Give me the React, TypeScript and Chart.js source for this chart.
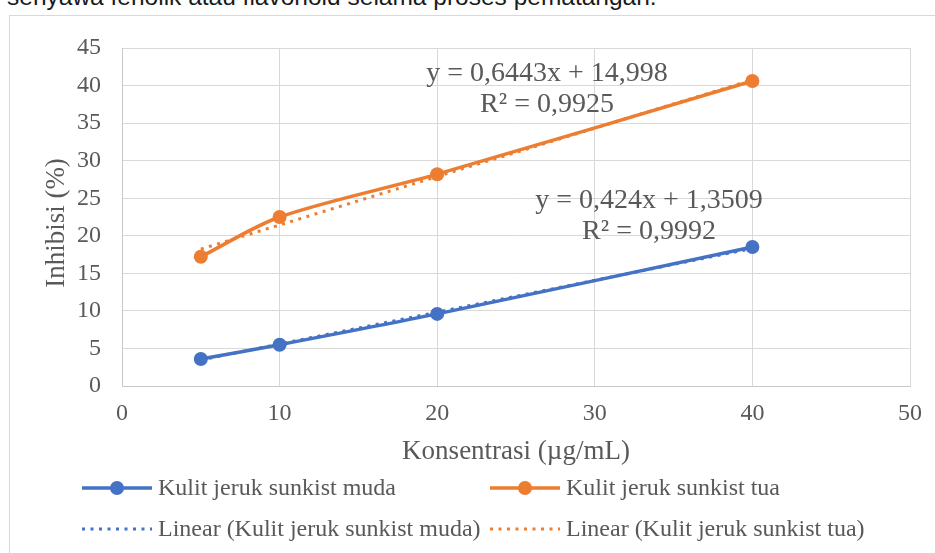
import React, { useEffect, useRef } from 'react';
import { Chart, registerables } from 'chart.js';

Chart.register(...registerables);

// ---- data ----
const concentrations = [5, 10, 20, 40];
const mudaValues = [3.6, 5.5, 9.6, 18.5];
const tuaValues = [17.2, 22.5, 28.2, 40.6];
const trendX = [5, 40];
const mudaTrend = [3.47, 18.31];
const tuaTrend = [18.22, 40.77];
const xTicks = [0, 10, 20, 30, 40, 50];
const yTicks = [0, 5, 10, 15, 20, 25, 30, 35, 40, 45];
const seriesLabels = [
  'Kulit jeruk sunkist muda',
  'Kulit jeruk sunkist tua',
  'Linear (Kulit jeruk sunkist muda)',
  'Linear (Kulit jeruk sunkist tua)',
];
const tuaEquation = ['y = 0,6443x + 14,998', 'R² = 0,9925'];
const mudaEquation = ['y = 0,424x + 1,3509', 'R² = 0,9992'];
const xTitle = 'Konsentrasi (µg/mL)';
const yTitle = 'Inhibisi (%)';
const captionText = 'senyawa fenolik atau flavonoid selama proses pematangan.';

// ---- style ----
const BLUE = '#4472C4';
const ORANGE = '#ED7D31';
const TEXT = '#595959';
const GRID = '#d9d9d9';
const SERIF = '"Liberation Serif", "Times New Roman", serif';

// annotation anchors in data space (centre of the first line)
const equationAnchors = [
  { lines: tuaEquation, x: 26.97, y: 41.6 },
  { lines: mudaEquation, x: 33.44, y: 24.7 },
];

const equationPlugin = {
  id: 'equations',
  afterDatasetsDraw(chart: any) {
    const { ctx, scales } = chart;
    ctx.save();
    ctx.font = `28px ${SERIF}`;
    ctx.fillStyle = TEXT;
    ctx.textAlign = 'center';
    ctx.textBaseline = 'middle';
    equationAnchors.forEach((a) => {
      const px = scales.x.getPixelForValue(a.x);
      const py = scales.y.getPixelForValue(a.y);
      a.lines.forEach((t, i) => ctx.fillText(t, px, py + i * 31));
    });
    ctx.restore();
  },
};

// y-axis title, drawn slightly below the axis centre as in the reference
const yTitlePlugin = {
  id: 'yTitle',
  afterDraw(chart: any) {
    const { ctx, chartArea } = chart;
    ctx.save();
    ctx.translate(57, (chartArea.top + chartArea.bottom) / 2 + 6);
    ctx.rotate(-Math.PI / 2);
    ctx.font = `27px ${SERIF}`;
    ctx.fillStyle = TEXT;
    ctx.textAlign = 'center';
    ctx.textBaseline = 'middle';
    ctx.fillText(yTitle, 0, 0);
    ctx.restore();
  },
};

const legendCols = [82, 490];
const legendRows = [488, 529];
const legendPlugin = {
  id: 'excelLegend',
  afterDraw(chart: any) {
    const { ctx } = chart;
    ctx.save();
    chart.data.datasets.forEach((ds: any, i: number) => {
      const x0 = legendCols[i % 2];
      const y = legendRows[Math.floor(i / 2)];
      const w = 70;
      ctx.strokeStyle = ds.borderColor;
      ctx.lineWidth = ds.borderWidth;
      ctx.setLineDash(ds.borderDash || []);
      ctx.lineCap = 'butt';
      ctx.beginPath();
      ctx.moveTo(x0, y);
      ctx.lineTo(x0 + w, y);
      ctx.stroke();
      ctx.setLineDash([]);
      if (ds.pointRadius > 0) {
        ctx.fillStyle = ds.borderColor;
        ctx.beginPath();
        ctx.arc(x0 + w / 2, y, ds.pointRadius, 0, Math.PI * 2);
        ctx.fill();
      }
      ctx.fillStyle = TEXT;
      ctx.font = `24px ${SERIF}`;
      ctx.textAlign = 'left';
      ctx.textBaseline = 'middle';
      ctx.fillText(ds.label, x0 + w + 6, y + 1);
    });
    ctx.restore();
  },
};

function ChartView() {
  const ref = useRef<HTMLCanvasElement>(null);
  useEffect(() => {
    const canvas = ref.current!;
    const toPts = (xs: number[], ys: number[]) => xs.map((x, i) => ({ x, y: ys[i] }));
    const chart = new Chart(canvas, {
      type: 'line',
      data: {
        datasets: [
          {
            label: seriesLabels[0],
            data: toPts(concentrations, mudaValues),
            borderColor: BLUE,
            backgroundColor: BLUE,
            borderWidth: 3.5,
            pointRadius: 7,
            pointBorderWidth: 0,
            pointBackgroundColor: BLUE,
            tension: 0.3,
            order: 1,
          },
          {
            label: seriesLabels[1],
            data: toPts(concentrations, tuaValues),
            borderColor: ORANGE,
            backgroundColor: ORANGE,
            borderWidth: 3.5,
            pointRadius: 7,
            pointBorderWidth: 0,
            pointBackgroundColor: ORANGE,
            tension: 0.3,
            order: 1,
          },
          {
            label: seriesLabels[2],
            data: toPts(trendX, mudaTrend),
            borderColor: BLUE,
            borderWidth: 3,
            borderDash: [3, 5.5],
            pointRadius: 0,
            tension: 0,
            order: 0,
          },
          {
            label: seriesLabels[3],
            data: toPts(trendX, tuaTrend),
            borderColor: ORANGE,
            borderWidth: 3,
            borderDash: [3, 5.5],
            pointRadius: 0,
            tension: 0,
            order: 0,
          },
        ],
      },
      options: {
        animation: false,
        responsive: false,
        devicePixelRatio: 1,
        layout: { padding: { left: 41, top: 48, right: 25, bottom: 85 } },
        plugins: {
          legend: { display: false },
          tooltip: { enabled: false },
        },
        scales: {
          x: {
            type: 'linear',
            min: 0,
            max: 50,
            afterBuildTicks: (s: any) => {
              s.ticks = xTicks.map((v) => ({ value: v }));
            },
            afterFit: (s: any) => {
              s.height = 82;
            },
            ticks: { color: TEXT, font: { family: SERIF, size: 24 }, padding: 13, maxRotation: 0 },
            grid: { color: GRID, drawTicks: false, lineWidth: 1 },
            border: { color: '#c8c8c8', width: 1 },
            title: { display: true, text: xTitle, color: TEXT, font: { family: SERIF, size: 27 }, padding: 0 },
          },
          y: {
            type: 'linear',
            min: 0,
            max: 45,
            afterBuildTicks: (s: any) => {
              s.ticks = yTicks.map((v) => ({ value: v }));
            },
            afterFit: (s: any) => {
              s.width = 81;
            },
            ticks: { color: TEXT, font: { family: SERIF, size: 24 }, padding: 21 },
            grid: { color: GRID, drawTicks: false, lineWidth: 1 },
            border: { color: '#c8c8c8', width: 1 },
            title: { display: false },
          },
        },
      },
      plugins: [equationPlugin, yTitlePlugin, legendPlugin],
    } as any);
    return () => chart.destroy();
  }, []);
  return (
    <canvas
      ref={ref}
      width={935}
      height={553}
      style={{ position: 'absolute', left: 0, top: 0, width: 935, height: 553 }}
    />
  );
}

export default function App() {
  return (
    <div
      style={{
        position: 'fixed',
        left: 0,
        top: 0,
        width: 935,
        height: 553,
        overflow: 'hidden',
        background: '#ffffff',
      }}
    >
      <div
        style={{
          position: 'absolute',
          left: 7,
          top: -16,
          fontFamily: '"Liberation Sans", Arial, sans-serif',
          fontSize: 24.5,
          lineHeight: '25px',
          color: '#1a1a1a',
          whiteSpace: 'nowrap',
        }}
      >
        {captionText}
      </div>
      <div
        style={{
          position: 'absolute',
          left: 9,
          top: 15,
          width: 960,
          height: 600,
          border: '1px solid #d9d9d9',
          boxSizing: 'border-box',
        }}
      />
      <ChartView />
    </div>
  );
}
